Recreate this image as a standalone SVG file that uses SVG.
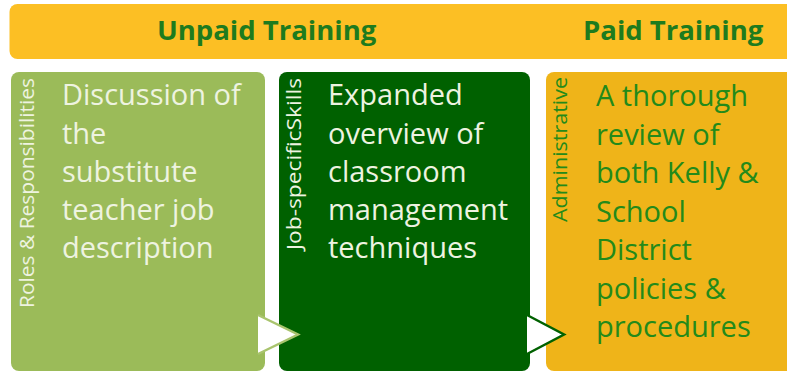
<svg xmlns="http://www.w3.org/2000/svg" width="787" height="372" viewBox="0 0 787 372">
  <style>
    text { font-family: "Open Sans", "Noto Sans", "Liberation Sans", sans-serif; }
    .title { font-size: 27.5px; font-weight: bold; fill: #1E7B1E; }
    .body { font-size: 29px; }
    .side { font-size: 20.5px; }
    .light { fill: #EEF3E0; }
    .green { fill: #238A1A; }
    .chev { stroke-width: 2.5; fill: none; stroke-linejoin: miter; }
  </style>

  <!-- header bar -->
  <g id="header">
    <rect x="9.5" y="4" width="800" height="55" rx="8" fill="#FCBF24"/>
    <text class="title" x="157" y="40">Unpaid Training</text>
    <text class="title" x="583" y="40">Paid Training</text>
  </g>

  <!-- stage 1 -->
  <g id="roles">
    <rect x="11" y="72" width="254" height="299" rx="8" fill="#9BBB59"/>
    <text class="side light" transform="translate(34,308) rotate(-90)" textLength="230" lengthAdjust="spacingAndGlyphs">Roles &amp; Responsibilities</text>
    <text class="body light">
      <tspan x="62" y="105">Discussion of</tspan>
      <tspan x="62" y="143.5">the</tspan>
      <tspan x="62" y="182">substitute</tspan>
      <tspan x="62" y="220">teacher job</tspan>
      <tspan x="62" y="258">description</tspan>
    </text>
  </g>

  <!-- stage 2 -->
  <g id="skills">
    <rect x="279" y="72" width="251" height="299" rx="8" fill="#006100"/>
    <text class="side light" transform="translate(301,250) rotate(-90)" textLength="172" lengthAdjust="spacingAndGlyphs">Job-specificSkills</text>
    <text class="body light">
      <tspan x="328" y="105">Expanded</tspan>
      <tspan x="328" y="143.5">overview of</tspan>
      <tspan x="328" y="182">classroom</tspan>
      <tspan x="328" y="220">management</tspan>
      <tspan x="328" y="258">techniques</tspan>
    </text>
  </g>

  <!-- stage 3 -->
  <g id="administrative">
    <rect x="546" y="72" width="260" height="299" rx="8" fill="#EFB419"/>
    <text class="side green" transform="translate(567,222) rotate(-90)" textLength="145" lengthAdjust="spacingAndGlyphs">Administrative</text>
    <text class="body green">
      <tspan x="596" y="106">A thorough</tspan>
      <tspan x="596" y="144.5">review of</tspan>
      <tspan x="596" y="183">both Kelly &amp;</tspan>
      <tspan x="596" y="221.5">School</tspan>
      <tspan x="596" y="260">District</tspan>
      <tspan x="596" y="298.5">policies &amp;</tspan>
      <tspan x="596" y="337">procedures</tspan>
    </text>
  </g>

  <!-- flow arrows between stages -->
  <g id="connectors">
    <polygon points="258,315 298,334.5 258,354" fill="#FFFFFF"/>
    <polyline class="chev" points="258,315 298,334.5 258,354" stroke="#A9C46E"/>
    <polygon points="527,315 564,334.5 527,354" fill="#FFFFFF"/>
    <polyline class="chev" points="527,315 564,334.5 527,354" stroke="#006100"/>
  </g>
</svg>
